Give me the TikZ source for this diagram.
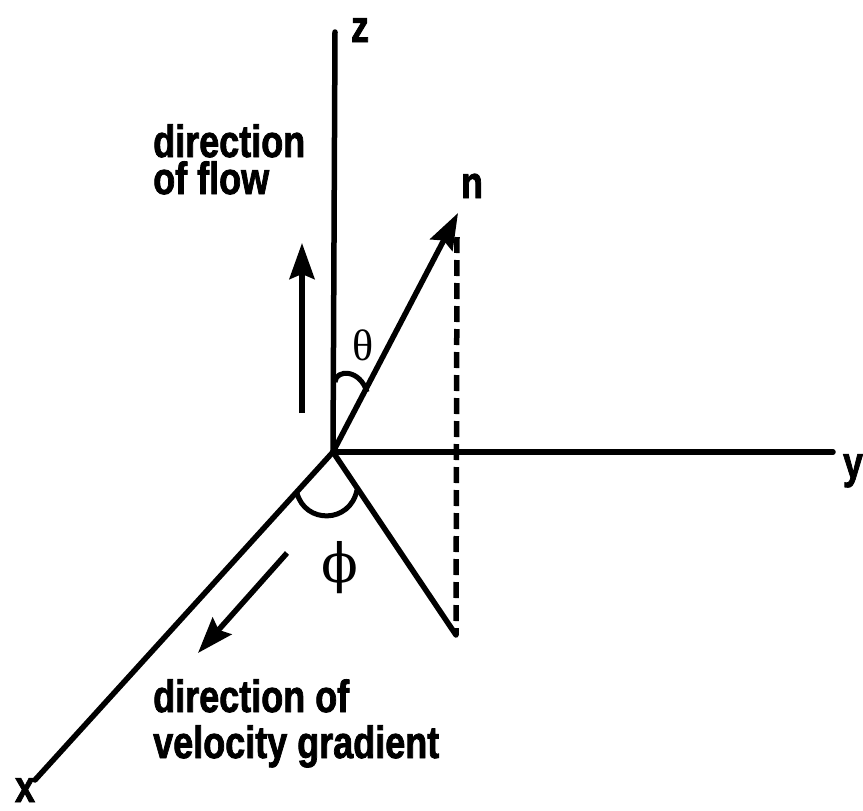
\documentclass[tikz,border=0pt]{standalone}
\usepackage{fontspec}
\setmainfont{Liberation Sans}[BoldFeatures={FakeBold=2}]
\newfontfamily\grkfont{Liberation Serif}
\newfontfamily\phifont{DejaVu Serif}
\usetikzlibrary{arrows.meta}
\newcommand{\sq}[1]{\scalebox{0.8}[1]{#1}}
\tikzset{
  axis/.style={line width=5.5pt, line cap=round},
  arr/.style={line width=5.5pt, -{Stealth[length=36pt,width=25pt,inset=5pt]}},
  bigtxt/.style={font=\fontsize{45}{37}\selectfont\bfseries},
  lbl/.style={bigtxt, inner sep=0pt, anchor=base west, align=left},
  axlbl/.style={bigtxt, inner sep=0pt, anchor=base},
}
\begin{document}
\begin{tikzpicture}[x=1pt,y=-1pt]
\useasboundingbox (0,0) rectangle (863,811);
% points
\coordinate (O) at (333,452);
\coordinate (ztop) at (335,32);
\coordinate (yend) at (833,452);
\coordinate (xend) at (35,780);
\coordinate (ntip) at (458,213);
\coordinate (dtop) at (457,237);
\coordinate (P) at (456,635);
\coordinate (f1) at (302,413);
\coordinate (f2) at (302,243);
\coordinate (g1) at (287,553);
\coordinate (g2) at (198,653);
% axes
\draw[axis] (O) -- (ztop);
\draw[axis] (O) -- (yend);
\draw[axis] (O) -- (xend);
% projection
\draw[axis] (O) -- (P);
\draw[line width=5.5pt, dash pattern=on 16pt off 7pt] (dtop) -- (P);
% vector n
\draw[arr] (O) -- (ntip);
% angle arcs
\draw[line width=5pt] (335,382) .. controls (336,369) and (360,369) .. (367,392);
\draw[line width=5pt] (297,493) .. controls (305,524) and (350,524) .. (357,490);
% direction arrows
\draw[arr] (f1) -- (f2);
\draw[arr] (g1) -- (g2);
% labels
\node[axlbl] (zl) at (360,42) {\sq{z}};
\node[axlbl] (yl) at (853,478) {\sq{y}};
\node[axlbl] (xl) at (25,802) {\sq{x}};
\node[axlbl] (nl) at (472,198) {\sq{n}};
\node[inner sep=0pt] (th) at (363,345) {\grkfont\fontsize{44}{44}\selectfont θ};
\node[inner sep=0pt] (ph) at (340,568) {\phifont\fontsize{54}{54}\selectfont ϕ};
\node[lbl] (fl) at (153,194) {\sq{direction}\\\sq{of flow}};
\node[lbl] (vg) at (153,758) {\sq{direction of}\\[9pt]\sq{velocity gradient}};
\end{tikzpicture}
\end{document}
